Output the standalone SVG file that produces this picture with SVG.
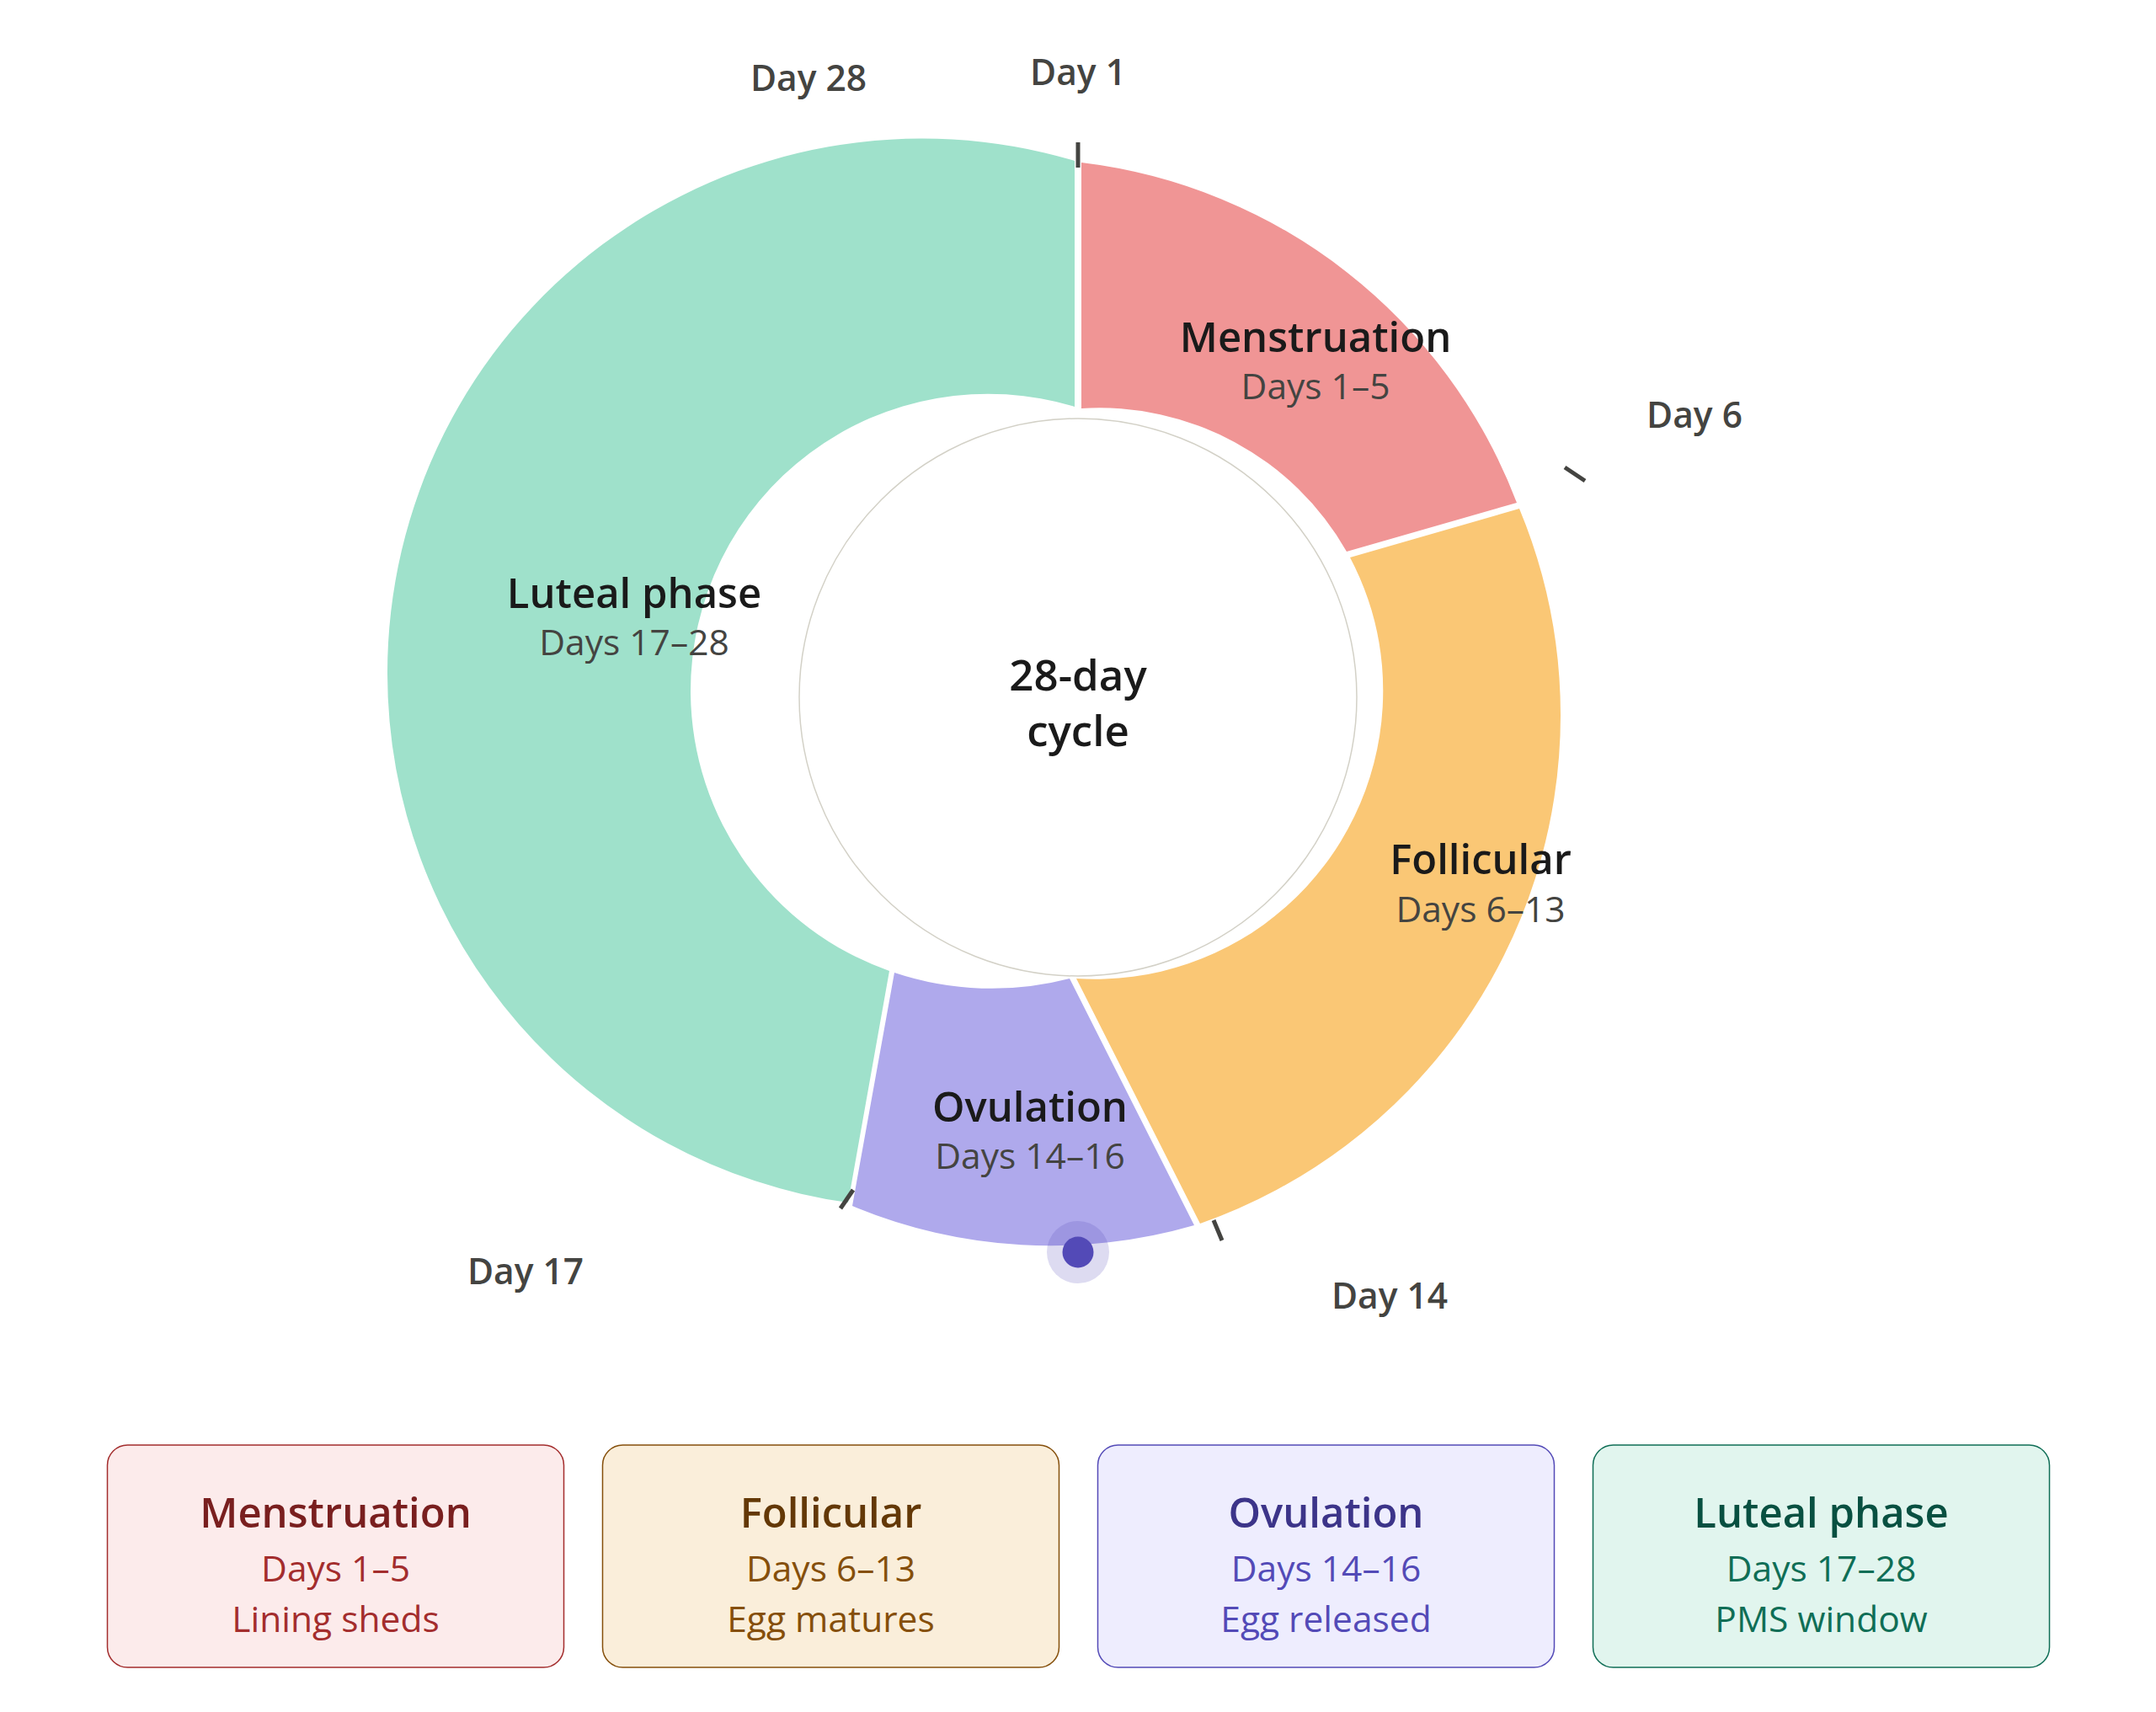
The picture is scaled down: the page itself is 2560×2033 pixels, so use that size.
<svg xmlns="http://www.w3.org/2000/svg" width="2560" height="2033" viewBox="0 0 2560 2033">
<style>
text { font-family: "Open Sans", "Noto Sans", "Liberation Sans", sans-serif; text-anchor: middle; }
.seg-title { font-size: 49px; font-weight: 600; fill: #1a1a1a; }
.seg-sub { font-size: 42.5px; font-weight: 400; fill: #444441; }
.day { font-size: 42.5px; font-weight: 600; fill: #444441; }
.tick { stroke: #444441; stroke-width: 5; stroke-linecap: butt; fill: none; }
.card-title { font-size: 49px; font-weight: 600; }
.card-sub { font-size: 42.5px; font-weight: 400; }
.center { font-size: 51px; font-weight: 600; fill: #1a1a1a; }
</style>
<rect width="2560" height="2033" fill="#ffffff"/>

<g id="donut">
  <g id="seg-luteal">
    <path d="M 1276 191 A 634.7 634.7 0 0 0 460 800 A 634.7 634.7 0 0 0 1007 1428 L 1056 1153 A 353 353 0 0 1 820 824 A 353 353 0 0 1 1276 483 Z" fill="#9FE1CB"/>
    <text class="seg-title" x="753" y="722">Luteal phase</text>
    <text class="seg-sub" x="753" y="778">Days 17–28</text>
  </g>
  <g id="seg-menstruation">
    <path d="M 1284 193 A 634 634 0 0 1 1801 597 L 1599 655 A 338 338 0 0 0 1284 485 Z" fill="#F09595"/>
    <text class="seg-title" x="1562" y="418">Menstruation</text>
    <text class="seg-sub" x="1562" y="474">Days 1–5</text>
  </g>
  <g id="seg-follicular">
    <path d="M 1804 604 A 640 640 0 0 1 1853 849 A 640 640 0 0 1 1425 1453 L 1278 1162 A 342 342 0 0 0 1641.7 840 A 342 342 0 0 0 1603 662 Z" fill="#FAC775"/>
    <text class="seg-title" x="1758" y="1038">Follicular</text>
    <text class="seg-sub" x="1758" y="1095">Days 6–13</text>
  </g>
  <g id="seg-ovulation">
    <path d="M 1270 1162 L 1418 1455 A 612 612 0 0 1 1012 1432 L 1062 1155 A 365 365 0 0 0 1270 1162 Z" fill="#AFA9EC"/>
    <text class="seg-title" x="1223" y="1332">Ovulation</text>
    <text class="seg-sub" x="1223" y="1388">Days 14–16</text>
  </g>
  <g id="center">
    <circle cx="1280" cy="828" r="331" fill="#ffffff" stroke="#D3D1C7" stroke-width="1.5"/>
    <text class="center" x="1280" y="820">28-day</text>
    <text class="center" x="1280" y="886">cycle</text>
  </g>
  <g id="ovulation-marker">
    <circle cx="1280" cy="1487" r="37" fill="#534AB7" fill-opacity="0.2"/>
    <circle cx="1280" cy="1487" r="18.5" fill="#534AB7"/>
  </g>
</g>

<g id="ticks">
  <line class="tick" x1="1280" y1="169" x2="1280" y2="199"/>
  <line class="tick" x1="1858" y1="555" x2="1882" y2="571"/>
  <line class="tick" x1="1441" y1="1449" x2="1451" y2="1473"/>
  <line class="tick" x1="1013" y1="1413" x2="998" y2="1435"/>
</g>

<g id="day-labels">
  <text class="day" x="1280" y="101">Day 1</text>
  <text class="day" x="960" y="108">Day 28</text>
  <text class="day" x="2012" y="508">Day 6</text>
  <text class="day" x="624" y="1525">Day 17</text>
  <text class="day" x="1650" y="1554">Day 14</text>
</g>

<g id="legend">
  <g id="card-menstruation">
    <rect x="127.5" y="1716" width="542" height="264" rx="24" fill="#FCEBEB" stroke="#A32D2D" stroke-width="1.5"/>
    <text class="card-title" x="398.5" y="1814" fill="#791F1F">Menstruation</text>
    <text class="card-sub" x="398.5" y="1878" fill="#A32D2D">Days 1–5</text>
    <text class="card-sub" x="398.5" y="1938" fill="#A32D2D">Lining sheds</text>
  </g>
  <g id="card-follicular">
    <rect x="715.5" y="1716" width="542" height="264" rx="24" fill="#FAEEDA" stroke="#854F0B" stroke-width="1.5"/>
    <text class="card-title" x="986.5" y="1814" fill="#633806">Follicular</text>
    <text class="card-sub" x="986.5" y="1878" fill="#854F0B">Days 6–13</text>
    <text class="card-sub" x="986.5" y="1938" fill="#854F0B">Egg matures</text>
  </g>
  <g id="card-ovulation">
    <rect x="1303.5" y="1716" width="542" height="264" rx="24" fill="#EEEDFE" stroke="#534AB7" stroke-width="1.5"/>
    <text class="card-title" x="1574.5" y="1814" fill="#3C3489">Ovulation</text>
    <text class="card-sub" x="1574.5" y="1878" fill="#534AB7">Days 14–16</text>
    <text class="card-sub" x="1574.5" y="1938" fill="#534AB7">Egg released</text>
  </g>
  <g id="card-luteal">
    <rect x="1891.5" y="1716" width="542" height="264" rx="24" fill="#E1F5EE" stroke="#0F6E56" stroke-width="1.5"/>
    <text class="card-title" x="2162.5" y="1814" fill="#085041">Luteal phase</text>
    <text class="card-sub" x="2162.5" y="1878" fill="#0F6E56">Days 17–28</text>
    <text class="card-sub" x="2162.5" y="1938" fill="#0F6E56">PMS window</text>
  </g>
</g>
</svg>
